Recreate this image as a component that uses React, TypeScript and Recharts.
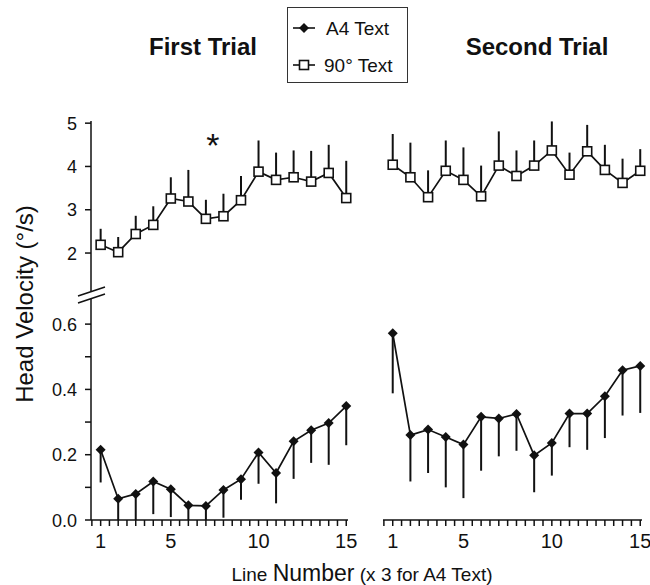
import { ErrorBar, Line, LineChart, ReferenceDot, XAxis, YAxis } from 'recharts';

const FONT = '"Liberation Sans", Arial, Helvetica, sans-serif';
const INK = '#111';

// line numbers shared by every panel
const lineNumbers = [1, 2, 3, 4, 5, 6, 7, 8, 9, 10, 11, 12, 13, 14, 15];

// 90° text, head velocity mean and upper SD
const firstTrial90 = [2.19, 2.02, 2.44, 2.65, 3.26, 3.19, 2.79, 2.85, 3.22, 3.88, 3.69, 3.75, 3.65, 3.85, 3.27];
const firstTrial90Sd = [0.37, 0.35, 0.42, 0.43, 0.49, 0.73, 0.44, 0.52, 0.56, 0.72, 0.63, 0.62, 0.71, 0.65, 0.86];
const secondTrial90 = [4.04, 3.75, 3.29, 3.9, 3.69, 3.31, 4.02, 3.78, 4.02, 4.37, 3.81, 4.35, 3.92, 3.62, 3.9];
const secondTrial90Sd = [0.71, 0.8, 0.62, 0.7, 0.75, 0.71, 0.79, 0.59, 0.58, 0.67, 0.51, 0.61, 0.58, 0.56, 0.5];

// A4 text, head velocity mean and lower SD
const firstTrialA4 = [0.215, 0.065, 0.08, 0.118, 0.094, 0.045, 0.043, 0.092, 0.125, 0.207, 0.144, 0.241, 0.275, 0.297, 0.349];
const firstTrialA4Sd = [0.1, 0.065, 0.08, 0.1, 0.085, 0.045, 0.043, 0.085, 0.063, 0.096, 0.093, 0.115, 0.1, 0.128, 0.12];
const secondTrialA4 = [0.572, 0.26, 0.277, 0.254, 0.231, 0.316, 0.311, 0.325, 0.198, 0.236, 0.326, 0.326, 0.379, 0.459, 0.472];
const secondTrialA4Sd = [0.184, 0.142, 0.133, 0.154, 0.164, 0.165, 0.116, 0.113, 0.113, 0.1, 0.103, 0.111, 0.128, 0.139, 0.144];

const xTicks = [0.5, 1, 1.5, 2, 2.5, 3, 3.5, 4, 4.5, 5, 5.5, 6, 6.5, 7, 7.5, 8, 8.5, 9, 9.5, 10, 10.5, 11, 11.5, 12, 12.5, 13, 13.5, 14, 14.5, 15];
const xLabelled = [1, 5, 10, 15];
const upperTicks = [2, 3, 4, 5];
const lowerTicks = [0, 0.1, 0.2, 0.3, 0.4, 0.5, 0.6];
const lowerLabelled = [0, 0.2, 0.4, 0.6];

const X_DOMAIN: [number, number] = [0.45, 15.1];
const UPPER_DOMAIN: [number, number] = [1.1, 5.05];
const LOWER_DOMAIN: [number, number] = [0, 0.68];

const TICK_LEN = 6;
const TICK_GAP = 7;

const build = (values: number[], sd: number[], upward: boolean) =>
  lineNumbers.map((n, i) => ({ n, v: values[i], sd: upward ? [0, sd[i]] : [sd[i], 0] }));

const Square = (props: any) => {
  const { cx, cy, index } = props;
  if (cx == null || cy == null) return <g key={`s-${index}`} />;
  return <rect key={`s-${index}`} x={cx - 4.5} y={cy - 4.5} width={9} height={9} fill="#fff" stroke={INK} strokeWidth={1.6} />;
};

const Diamond = (props: any) => {
  const { cx, cy, index } = props;
  if (cx == null || cy == null) return <g key={`d-${index}`} />;
  return <path key={`d-${index}`} d={`M${cx},${cy - 5}L${cx + 5},${cy}L${cx},${cy + 5}L${cx - 5},${cy}Z`} fill={INK} />;
};

// x ticks: every half line, numbers only on a few
const XTick = (props: any) => {
  const { x, y, payload } = props;
  const v = payload.value as number;
  const top = y - TICK_GAP - TICK_LEN;
  return (
    <g>
      <line x1={x} x2={x} y1={top} y2={top + TICK_LEN} stroke={INK} strokeWidth={1.5} />
      {xLabelled.includes(v) && (
        <text x={x} y={y + 15} textAnchor="middle" fontSize={20} fontFamily={FONT} fill={INK}>
          {v}
        </text>
      )}
    </g>
  );
};

const makeYTick = (upper: boolean) => (props: any) => {
  const { x, y, payload } = props;
  const v = payload.value as number;
  const right = x + TICK_GAP + TICK_LEN;
  const label = upper ? String(v) : lowerLabelled.includes(v) ? v.toFixed(1) : '';
  return (
    <g>
      <line x1={right - TICK_LEN} x2={right} y1={y} y2={y} stroke={INK} strokeWidth={1.5} />
      {label && (
        <text x={x - 1} y={y + 6.5} textAnchor="end" fontSize={18} fontFamily={FONT} fill={INK}>
          {label}
        </text>
      )}
    </g>
  );
};

const upperYTick = makeYTick(true);
const lowerYTick = makeYTick(false);

const axisLine = { stroke: INK, strokeWidth: 1.5 };

type PanelProps = {
  data: { n: number; v: number; sd: number[] }[];
  upper: boolean;
  left: boolean;
  children?: React.ReactNode;
};

const Panel = ({ data, upper, left, children }: PanelProps) => {
  const margin = {
    top: upper ? 121 : 298,
    bottom: upper ? 293 : 35,
    left: left ? 0 : 383,
    right: left ? 302 : 8,
  };
  return (
    <div style={{ position: 'absolute', left: 0, top: 0 }}>
      <LineChart width={650} height={585} data={data} margin={margin}>
        <XAxis
          dataKey="n"
          type="number"
          domain={X_DOMAIN}
          ticks={xTicks}
          interval={0}
          hide={upper}
          height={30}
          axisLine={axisLine}
          tickLine={false}
          tickSize={TICK_LEN}
          tickMargin={TICK_GAP}
          tick={XTick}
        />
        <YAxis
          type="number"
          domain={upper ? UPPER_DOMAIN : LOWER_DOMAIN}
          ticks={upper ? upperTicks : lowerTicks}
          interval={0}
          hide={!left}
          width={91}
          axisLine={axisLine}
          tickLine={false}
          tickSize={TICK_LEN}
          tickMargin={TICK_GAP}
          tick={upper ? upperYTick : lowerYTick}
        />
        <Line
          dataKey="v"
          stroke={INK}
          strokeWidth={1.7}
          dot={upper ? Square : Diamond}
          activeDot={false}
          isAnimationActive={false}
        >
          <ErrorBar dataKey="sd" direction="y" width={0} stroke={INK} strokeWidth={2} isAnimationActive={false} />
        </Line>
        {children}
      </LineChart>
    </div>
  );
};

const LegendBox = () => (
  <svg width={122} height={77} style={{ position: 'absolute', left: 287, top: 7 }}>
    <rect x={0.5} y={0.5} width={120} height={75} fill="#fff" stroke="#333" strokeWidth={1} />
    <line x1={6} x2={28} y1={21} y2={21} stroke={INK} strokeWidth={1.6} />
    <path d="M17,16L22,21L17,26L12,21Z" fill={INK} />
    <text x={39} y={28} fontSize={19} fontFamily={FONT} fill={INK}>A4 Text</text>
    <line x1={6} x2={28} y1={58} y2={58} stroke={INK} strokeWidth={1.6} />
    <rect x={12.5} y={53.5} width={9} height={9} fill="#fff" stroke={INK} strokeWidth={1.6} />
    <text x={37} y={65} fontSize={19} fontFamily={FONT} fill={INK}>90° Text</text>
  </svg>
);

const Labels = () => (
  <svg width={650} height={585} style={{ position: 'absolute', left: 0, top: 0, pointerEvents: 'none' }}>
    <g fontFamily={FONT} fill={INK}>
      <text x={203} y={55} fontSize={24} fontWeight="bold" textAnchor="middle">First Trial</text>
      <text x={537} y={55} fontSize={24} fontWeight="bold" textAnchor="middle">Second Trial</text>
      <text x={33} y={304} fontSize={24} textAnchor="middle" transform="rotate(-90 33 304)">
        Head Velocity (°/s)
      </text>
      <text x={362} y={581} textAnchor="middle" fontSize={19}>
        <tspan>Line </tspan>
        <tspan fontSize={23}>Number</tspan>
        <tspan> (x 3 for A4 Text)</tspan>
      </text>
    </g>
    {/* axis break between the two y ranges */}
    <rect x={86} y={291} width={10} height={8} fill="#fff" />
    <line x1={78} y1={296} x2={105} y2={287} stroke={INK} strokeWidth={1.4} />
    <line x1={78} y1={303} x2={105} y2={294} stroke={INK} strokeWidth={1.4} />
  </svg>
);

export default function App() {
  return (
    <div style={{ position: 'absolute', left: 0, top: 0, width: 650, height: 585, background: '#fff', fontFamily: FONT }}>
      <Panel data={build(firstTrial90, firstTrial90Sd, true)} upper left>
        <ReferenceDot
          x={7.4}
          y={4.5}
          r={0}
          ifOverflow="visible"
          label={{ value: '*', position: 'center', fontSize: 34, fill: INK, fontFamily: FONT }}
        />
      </Panel>
      <Panel data={build(secondTrial90, secondTrial90Sd, true)} upper left={false} />
      <Panel data={build(firstTrialA4, firstTrialA4Sd, false)} upper={false} left />
      <Panel data={build(secondTrialA4, secondTrialA4Sd, false)} upper={false} left={false} />
      <Labels />
      <LegendBox />
    </div>
  );
}
